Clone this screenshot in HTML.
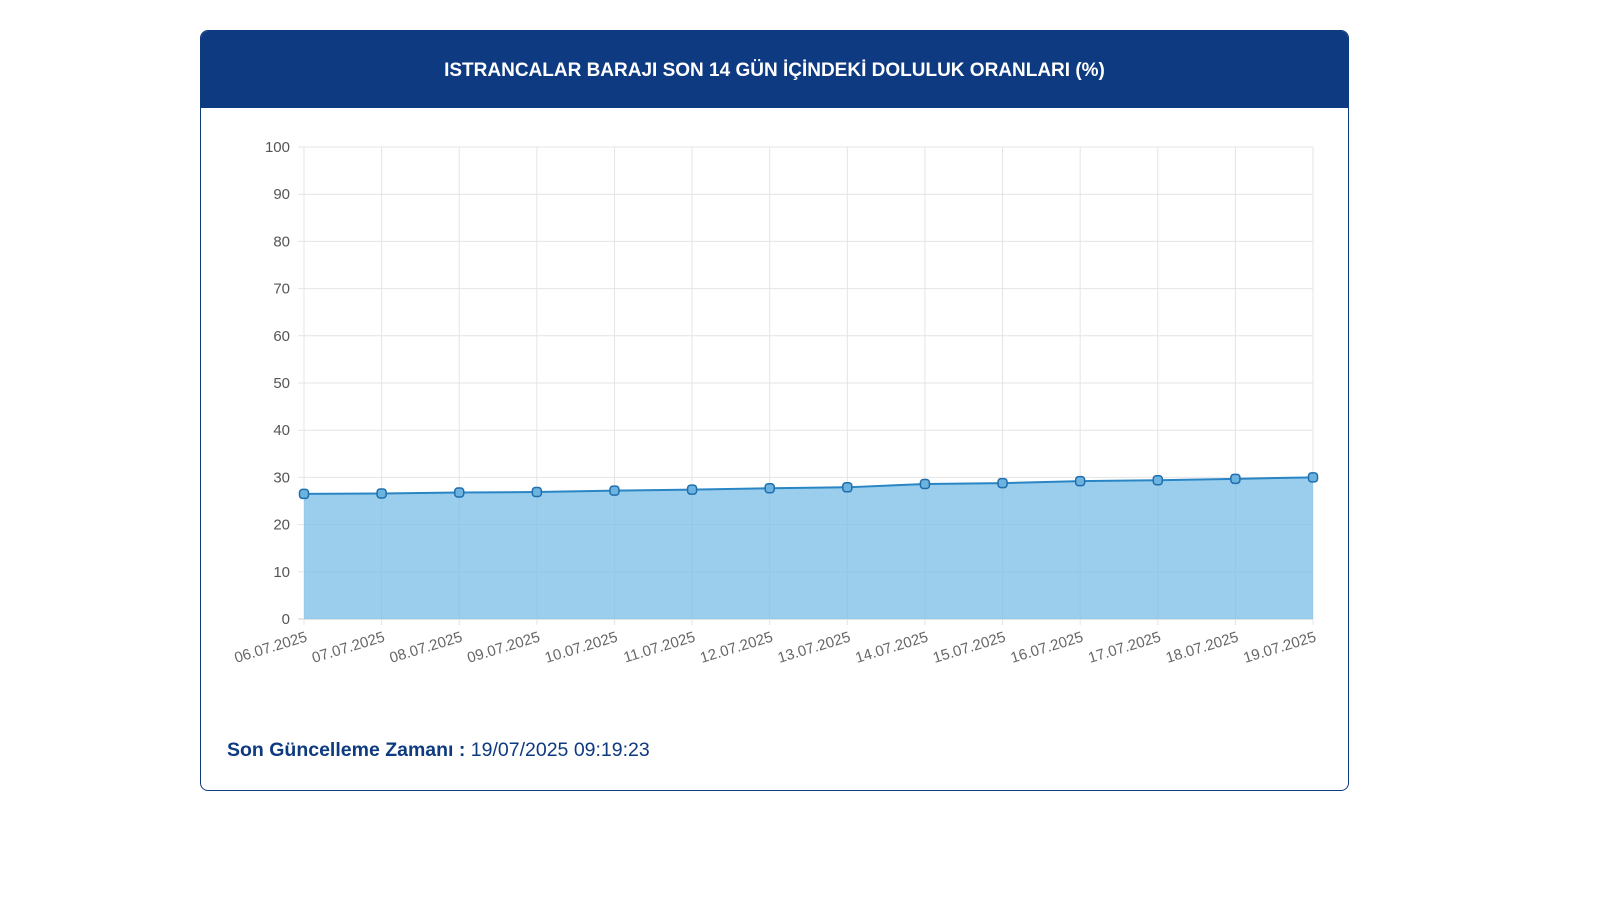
<!DOCTYPE html>
<html><head><meta charset="utf-8"><style>
body{margin:0;width:1600px;height:900px;background:#fff;font-family:"Liberation Sans",sans-serif;position:relative;overflow:hidden}
#card{position:absolute;left:200px;top:30px;width:1149px;height:761px;border:1px solid #0e3a80;border-radius:8px;overflow:hidden;box-sizing:border-box}
#hdr{height:77px;background:#0e3a82;color:#fff;font-weight:bold;font-size:19px;text-align:center;line-height:80px}
#foot{position:absolute;left:227px;top:739px;font-size:19.5px;color:#0e3a80}
</style></head><body>
<div id="card"><div id="hdr">ISTRANCALAR BARAJI SON 14 GÜN İÇİNDEKİ DOLULUK ORANLARI (%)</div></div>
<svg id="c" width="1600" height="900" style="position:absolute;left:0;top:0"></svg>
<div id="foot"><b>Son Güncelleme Zamanı :</b> 19/07/2025 09:19:23</div>
<script>
const categories=["06.07.2025","07.07.2025","08.07.2025","09.07.2025","10.07.2025","11.07.2025","12.07.2025","13.07.2025","14.07.2025","15.07.2025","16.07.2025","17.07.2025","18.07.2025","19.07.2025"];
const values=[26.5,26.6,26.8,26.9,27.2,27.4,27.7,27.9,28.6,28.8,29.2,29.4,29.7,30.0];
const yTicks=[0,10,20,30,40,50,60,70,80,90,100];
const ns="http://www.w3.org/2000/svg",svg=document.getElementById('c');
const X0=304,X1=1313,Y0=619,Y1=147;
const x=i=>X0+i*(X1-X0)/(categories.length-1);
const y=v=>Y0-(v/100)*(Y0-Y1);
function mk(t,a,p){const e=document.createElementNS(ns,t);for(const k in a)e.setAttribute(k,a[k]);(p||svg).appendChild(e);return e;}
yTicks.forEach(t=>{
 const l=mk('line',{x1:X0-6,x2:X1,y1:y(t),y2:y(t),stroke:t===0?'#ccc':'#e4e4e4','stroke-width':1});
 
 
 const tx=mk('text',{x:X0-14,y:y(t)+5,'text-anchor':'end','font-size':15,fill:'#555','font-family':'Liberation Sans'});
 tx.textContent=t;
 
 
});
categories.forEach((c,i)=>{
 const l=mk('line',{x1:x(i),x2:x(i),y1:Y1,y2:Y0+6,stroke:'#e4e4e4','stroke-width':1});
 
 
 const tx=mk('text',{x:x(i)+4,y:Y0+22,'text-anchor':'end','font-size':15,fill:'#666','font-family':'Liberation Sans',transform:`rotate(-17 ${x(i)+4} ${Y0+22})`});
 tx.textContent=c;
 
 
});
let d=`M${x(0)},${Y0}`;values.forEach((v,i)=>d+=` L${x(i)},${y(v)}`);d+=` L${x(values.length-1)},${Y0} Z`;
const area=mk('path',{d:d,fill:'rgba(122,190,230,0.75)'});


const line=mk('polyline',{points:values.map((v,i)=>x(i)+','+y(v)).join(' '),fill:'none',stroke:'#2a85c4','stroke-width':2});


values.forEach((v,i)=>{
 const p=mk('rect',{x:x(i)-4.5,y:y(v)-4.5,width:9,height:9,rx:3,fill:'#6db3e0',stroke:'#1f6fae','stroke-width':1.5});
 
 
});
</script>
</body></html>
